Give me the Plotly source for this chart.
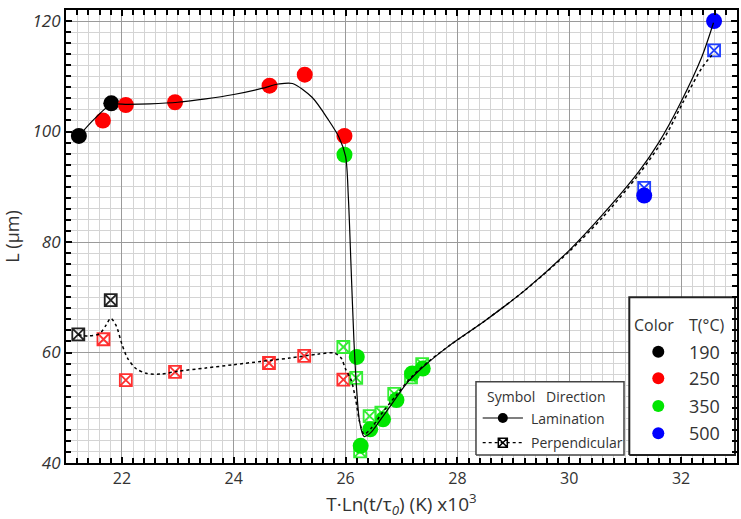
import plotly.graph_objects as go

# ---------------- data ----------------
# Lamination direction (filled circles)
lam_190_x = [21.23, 21.81]
lam_190_y = [99.2, 105.1]
lam_250_x = [21.66, 22.07, 22.95, 24.64, 25.27, 25.98]
lam_250_y = [102.0, 104.8, 105.3, 108.3, 110.3, 99.2]
lam_350_x = [25.98, 26.20, 26.27, 26.44, 26.67, 26.91, 27.19, 27.38]
lam_350_y = [95.8, 59.2, 43.1, 46.1, 47.9, 51.4, 56.2, 57.1]
lam_500_x = [31.34, 32.59]
lam_500_y = [88.4, 120.0]

# Perpendicular direction (crossed squares)
per_190_x = [21.22, 21.80]
per_190_y = [63.3, 69.5]
per_250_x = [21.67, 22.07, 22.95, 24.63, 25.26, 25.96]
per_250_y = [62.4, 55.0, 56.5, 58.1, 59.4, 55.1]
per_350_x = [25.96, 26.19, 26.26, 26.43, 26.64, 26.87, 27.17, 27.37]
per_350_y = [61.0, 55.4, 42.1, 48.5, 49.1, 52.5, 55.5, 57.9]
per_500_x = [31.34, 32.59]
per_500_y = [89.8, 114.7]

# Fitted trend curves
lam_fit_x = [21.23, 21.5, 21.81, 22.1, 22.5, 23.0, 23.5, 24.0, 24.5, 24.8, 25.05,
             25.4, 25.7, 25.88, 26.0, 26.05, 26.1, 26.15, 26.2, 26.25, 26.33, 26.45,
             26.6, 26.8, 27.1, 27.4, 27.85, 28.5, 29.2, 30.0, 30.6, 31.24, 31.6, 31.98,
             32.37, 32.58]
lam_fit_y = [99.2, 102.2, 104.9, 104.9, 105.0, 105.3, 105.9, 106.7, 107.8, 108.6, 108.7,
             106.2, 102.0, 99.0, 95.5, 88.0, 75.0, 62.0, 53.0, 47.5, 44.8, 45.5,
             47.5, 50.3, 54.5, 57.5, 61.2, 65.8, 71.2, 78.5, 85.0, 92.7, 98.0, 105.0,
             113.5, 119.7]
per_fit_x = [21.22, 21.4, 21.6, 21.72, 21.8, 21.9, 22.0, 22.1, 22.25, 22.45, 22.7, 23.0,
             23.5, 24.0, 24.5, 25.0, 25.5, 25.8, 25.92, 26.0, 26.1, 26.18, 26.25, 26.33,
             26.45, 26.65, 26.9, 27.2, 27.5, 27.85, 28.5, 29.2, 30.0, 30.6, 31.24, 31.71,
             32.04, 32.37, 32.55]
per_fit_y = [63.2, 63.0, 63.4, 65.0, 66.2, 64.8, 61.5, 59.0, 57.1, 56.2, 56.1, 56.6,
             57.2, 57.8, 58.4, 59.0, 59.7, 59.9, 59.0, 57.0, 55.0, 51.5, 47.5, 45.2,
             46.2, 49.0, 52.2, 55.8, 58.5, 61.2, 65.8, 71.2, 78.3, 84.5, 92.2, 99.0,
             105.4, 111.5, 113.8]

temps = ["190", "250", "350", "500"]
colors = ["#000000", "#ff0000", "#00e600", "#0000ff"]
sq_colors = ["#222222", "#ff3030", "#33ee33", "#2040ff"]

FONT = "Open Sans"
TXT = "#333333"

fig = go.Figure()

per_sets = [(per_190_x, per_190_y), (per_250_x, per_250_y),
            (per_350_x, per_350_y), (per_500_x, per_500_y)]
lam_sets = [(lam_190_x, lam_190_y), (lam_250_x, lam_250_y),
            (lam_350_x, lam_350_y), (lam_500_x, lam_500_y)]

for (xs, ys), c in zip(per_sets, sq_colors):
    fig.add_trace(go.Scatter(x=xs, y=ys, mode="markers",
                             marker=dict(symbol="square-x-open", size=12,
                                         color=c, line=dict(width=1.8, color=c)),
                             showlegend=False))
for (xs, ys), c in zip(lam_sets, colors):
    fig.add_trace(go.Scatter(x=xs, y=ys, mode="markers",
                             marker=dict(symbol="circle", size=16, color=c,
                                         line=dict(width=0)),
                             showlegend=False))

fig.add_trace(go.Scatter(x=per_fit_x, y=per_fit_y, mode="lines",
                         line=dict(color="black", width=1.5, dash="dot", shape="spline",
                                   smoothing=0.8),
                         showlegend=False))
fig.add_trace(go.Scatter(x=lam_fit_x, y=lam_fit_y, mode="lines",
                         line=dict(color="black", width=1.2, shape="spline", smoothing=0.8),
                         showlegend=False))

# ---------------- custom legends (overlay axes in 0..1 units) ----------------
box1_x = [0.611, 0.8316, 0.8316, 0.611, 0.611]
box1_y = [0.0177, 0.0177, 0.1795, 0.1795, 0.0177]
box2_x = [0.8395, 0.997, 0.997, 0.8395, 0.8395]
box2_y = [0.0177, 0.0177, 0.3658, 0.3658, 0.0177]
fig.add_trace(go.Scatter(x=box1_x, y=box1_y, xaxis="x2", yaxis="y2", mode="lines",
                         fill="toself", fillcolor="white",
                         line=dict(color="#444444", width=1.5),
                         showlegend=False, hoverinfo="skip"))
fig.add_trace(go.Scatter(x=box2_x, y=box2_y, xaxis="x2", yaxis="y2", mode="lines",
                         fill="toself", fillcolor="white",
                         line=dict(color="#222222", width=2),
                         showlegend=False, hoverinfo="skip"))

leg_line_x = [0.621, 0.681]
leg_mark_x = [0.651]
leg_lam_y = 0.0993
leg_per_y = 0.0448
fig.add_trace(go.Scatter(x=leg_line_x, y=[leg_lam_y] * 2, xaxis="x2", yaxis="y2",
                         mode="lines", line=dict(color="black", width=1.2),
                         showlegend=False, hoverinfo="skip"))
fig.add_trace(go.Scatter(x=leg_mark_x, y=[leg_lam_y], xaxis="x2", yaxis="y2",
                         mode="markers", marker=dict(symbol="circle", size=10, color="black"),
                         showlegend=False, hoverinfo="skip"))
fig.add_trace(go.Scatter(x=leg_line_x, y=[leg_per_y] * 2, xaxis="x2", yaxis="y2",
                         mode="lines", line=dict(color="black", width=1.2, dash="dot"),
                         showlegend=False, hoverinfo="skip"))
fig.add_trace(go.Scatter(x=leg_mark_x, y=[leg_per_y], xaxis="x2", yaxis="y2",
                         mode="markers",
                         marker=dict(symbol="square-x-open", size=9, color="black",
                                     line=dict(width=1.5, color="black")),
                         showlegend=False, hoverinfo="skip"))

col_leg_x = 0.8827
col_leg_y = [0.2457, 0.187, 0.1258, 0.0656]
fig.add_trace(go.Scatter(x=[col_leg_x] * 4, y=col_leg_y, xaxis="x2", yaxis="y2",
                         mode="markers", marker=dict(symbol="circle", size=12, color=colors),
                         showlegend=False, hoverinfo="skip"))

def ann(x, y, text, size):
    return dict(xref="paper", yref="paper", x=x, y=y, text=text,
                xanchor="left", yanchor="middle", showarrow=False,
                font=dict(family=FONT, size=size, color=TXT))

anns = [
    ann(0.6237, 0.1457, "Symbol", 14),
    ann(0.7124, 0.1457, "Direction", 14),
    ann(0.6905, leg_lam_y, "Lamination", 14),
    ann(0.6905, leg_per_y, "Perpendicular", 14),
    ann(0.8440, 0.3046, "Color", 16),
    ann(0.9255, 0.3046, "T(°C)", 16),
]
for t, yy in zip(temps, col_leg_y):
    anns.append(ann(0.9260, yy, t, 18))

fig.update_layout(
    width=741, height=519,
    margin=dict(l=66, r=4, t=10, b=56),
    plot_bgcolor="white", paper_bgcolor="white",
    font=dict(family=FONT, color=TXT),
    annotations=anns,
    hovermode=False,
    xaxis=dict(range=[21, 33], dtick=2, tick0=0, showgrid=True, gridcolor="#9a9a9a",
               gridwidth=1, zeroline=False, showline=True, linecolor="black", linewidth=2,
               mirror="allticks", ticks="inside", ticklen=6, tickwidth=2, tickcolor="black",
               tickfont=dict(family=FONT, size=16, color=TXT), automargin=False,
               minor=dict(dtick=0.2, tick0=0, showgrid=True, gridcolor="#d4d4d4", gridwidth=1,
                          ticks="inside", ticklen=5, tickwidth=1.5, tickcolor="black"),
               title=dict(text="T·Ln(t/τ<sub><i>0</i></sub>) (K) x10<sup>3</sup>",
                          font=dict(family=FONT, size=19, color=TXT))),
    yaxis=dict(range=[40, 122], dtick=20, tick0=0, showgrid=True, gridcolor="#9a9a9a",
               gridwidth=1, zeroline=False, showline=True, linecolor="black", linewidth=2,
               mirror="allticks", ticks="inside", ticklen=6, tickwidth=2, tickcolor="black",
               tickfont=dict(family=FONT, size=17, color=TXT, style="italic"),
               automargin=False,
               minor=dict(dtick=2, tick0=0, showgrid=True, gridcolor="#d4d4d4", gridwidth=1,
                          ticks="inside", ticklen=5, tickwidth=1.5, tickcolor="black"),
               title=dict(text="L (μm)", font=dict(family=FONT, size=18, color=TXT))),
    xaxis2=dict(overlaying="x", range=[0, 1], visible=False, fixedrange=True),
    yaxis2=dict(overlaying="y", range=[0, 1], visible=False, fixedrange=True),
)

fig.write_html("out.html", config={"displayModeBar": False},
               post_script="document.body.style.margin='0';document.body.style.overflow='hidden';")
